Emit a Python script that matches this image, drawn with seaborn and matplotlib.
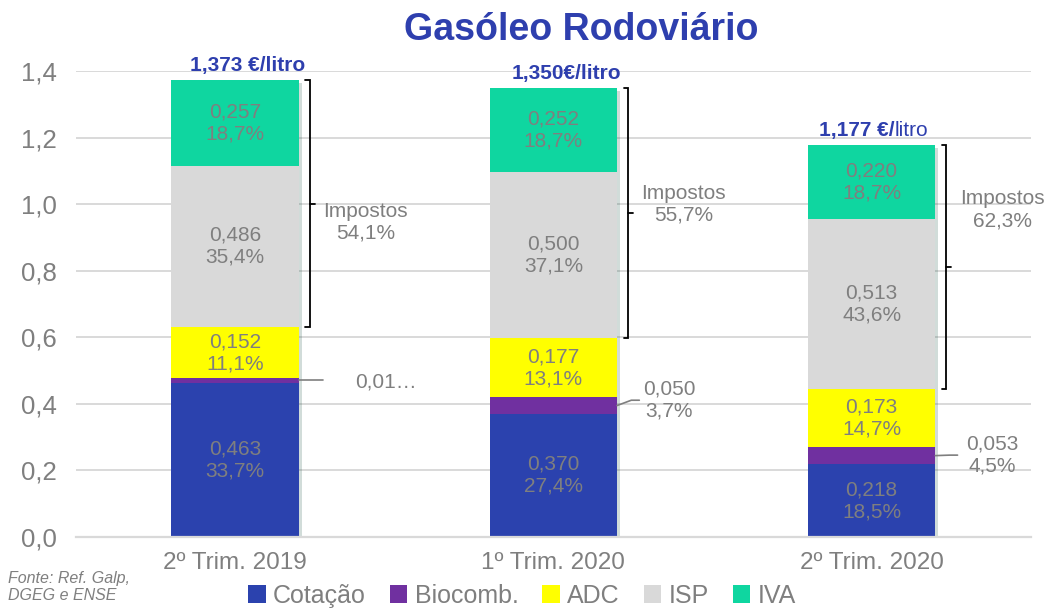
import matplotlib
matplotlib.use("Agg")
import numpy as np
import pandas as pd
import matplotlib.pyplot as plt
import seaborn as sns
from matplotlib.patches import Patch
import matplotlib.patheffects as pe

# values (euro per litre)
periods = ["2º Trim. 2019", "1º Trim. 2020", "2º Trim. 2020"]
cotacao = [0.463, 0.370, 0.218]
biocomb = [0.015, 0.050, 0.053]
adc = [0.152, 0.177, 0.173]
isp = [0.486, 0.500, 0.513]
iva = [0.257, 0.252, 0.220]

# shares of the final price (%)
cotacao_pct = [33.7, 27.4, 18.5]
biocomb_pct = [1.1, 3.7, 4.5]
adc_pct = [11.1, 13.1, 14.7]
isp_pct = [35.4, 37.1, 43.6]
iva_pct = [18.7, 18.7, 18.7]
impostos_pct = [54.1, 55.7, 62.3]
total_labels = ["1,373 €/litro", "1,350€/litro", "1,177 €/litro"]
unit_bold = [True, True, False]   # last label has "litro" in regular weight

series = ["Cotação", "Biocomb.", "ADC", "ISP", "IVA"]
colors = ["#2B42AE", "#7030A0", "#FFFF00", "#D9D9D9", "#0FD6A0"]
GREY = "#7F7F7F"
TITLE_BLUE = "#2E3FAE"


def fmt(v, d):
    return f"{v:.{d}f}".replace(".", ",")


df = pd.DataFrame({"Cotação": cotacao, "Biocomb.": biocomb, "ADC": adc,
                   "ISP": isp, "IVA": iva}, index=periods)
pct = pd.DataFrame({"Cotação": cotacao_pct, "Biocomb.": biocomb_pct, "ADC": adc_pct,
                    "ISP": isp_pct, "IVA": iva_pct}, index=periods)
cum = df.cumsum(axis=1)
cum_long = cum.reset_index().rename(columns={"index": "periodo"})

sns.set_style("white")
plt.rcParams["font.family"] = ["Liberation Sans", "DejaVu Sans"]

fig = plt.figure(figsize=(10.44, 6.13), dpi=100)
ax = fig.add_axes([0.0728, 0.124, 0.9145, 0.760])

# stacked bars: draw cumulative totals from the top layer down
for name, col in reversed(list(zip(series, colors))):
    sns.barplot(data=cum_long, x="periodo", y=name, order=periods, color=col,
                width=0.4, saturation=1, errorbar=None, ax=ax, zorder=2,
                linewidth=0)

# soft shadow on the full stack
for bar in ax.patches[:len(periods)]:
    bar.set_path_effects([pe.SimplePatchShadow(offset=(2, -2), alpha=0.18),
                          pe.Normal()])

ax.set_xlim(-0.5, 2.5)
ax.set_ylim(0, 1.4)
yt = np.arange(0, 1.41, 0.2)
ax.set_yticks(yt)
ax.set_yticklabels([fmt(v, 1) for v in yt])
ax.set_xlabel("")
ax.set_ylabel("")
ax.tick_params(axis="y", length=0, pad=14, labelsize=18.5, labelcolor=GREY)
ax.tick_params(axis="x", length=0, pad=11, labelsize=17.5, labelcolor=GREY)
ax.grid(axis="y", color="#D9D9D9", lw=1.4)
ax.grid(axis="x", visible=False)
ax.set_axisbelow(True)
for s in ["top", "right", "left"]:
    ax.spines[s].set_visible(False)
ax.spines["bottom"].set_color("#D9D9D9")
ax.spines["bottom"].set_linewidth(1.6)

# labels inside the segments
for name in ["Cotação", "ADC", "ISP", "IVA"]:
    for i, p in enumerate(periods):
        v = df.loc[p, name]
        mid = cum.loc[p, name] - v / 2
        ax.text(i, mid, f"{fmt(v, 3)}\n{fmt(pct.loc[p, name], 1)}%", ha="center",
                va="center", fontsize=15, color=GREY, linespacing=1.2, zorder=5)

# biocombustivel labels outside the bars, with leader lines
bio_dx = [0.473, 0.363, 0.38]
bio_dy = [0.465, 0.411, 0.246]
for i, p in enumerate(periods):
    v = df.loc[p, "Biocomb."]
    mid = cum.loc[p, "Biocomb."] - v / 2
    if i == 0:
        txt = fmt(v, 3)[:4] + "…"
        ax.plot([i + 0.2, i + 0.276], [mid, mid], color=GREY, lw=1.2, zorder=4)
    else:
        txt = f"{fmt(v, 3)}\n{fmt(pct.loc[p, 'Biocomb.'], 1)}%"
        ax.plot([i + 0.2, i + 0.245, i + 0.27], [mid, bio_dy[i], bio_dy[i]],
                color=GREY, lw=1.2, zorder=4)
    ax.text(i + bio_dx[i], bio_dy[i], txt, ha="center", va="center",
            fontsize=15, color=GREY, linespacing=1.2)

# brackets for the taxes
for i, p in enumerate(periods):
    top = cum.loc[p, "IVA"]
    bot = cum.loc[p, "ADC"]
    xb = i + 0.2 + 0.035
    ax.plot([xb - 0.014, xb, xb, xb - 0.014], [top, top, bot, bot],
            color="black", lw=1.3, zorder=4, solid_joinstyle="miter")
    midb = (top + bot) / 2
    ax.plot([xb, xb + 0.016], [midb, midb], color="black", lw=1.3, zorder=4)
    ax.text(i + 0.41, [0.946, 1.0, 0.984][i], f"Impostos\n{fmt(impostos_pct[i], 1)}%",
            ha="center", va="center", fontsize=15, color=GREY, linespacing=1.2)

# price per litre above each bar
for i, p in enumerate(periods):
    y = cum.loc[p, "IVA"] + 0.045
    if unit_bold[i]:
        ax.text(i + 0.04, y, total_labels[i], ha="center", va="center",
                fontsize=15, fontweight="bold", color=TITLE_BLUE)
    else:
        head, unit = total_labels[i].split("/")
        ax.text(i + 0.073, y, head + "/", ha="right", va="center",
                fontsize=15, fontweight="bold", color=TITLE_BLUE)
        ax.text(i + 0.073, y, unit, ha="left", va="center",
                fontsize=15, color=TITLE_BLUE)

fig.text(0.557, 0.951, "Gasóleo Rodoviário", ha="center", va="center",
         fontsize=27, fontweight="bold", color=TITLE_BLUE)
fig.text(0.008, 0.068, "Fonte: Ref. Galp,\nDGEG e ENSE", ha="left", va="top",
         fontsize=11.5, style="italic", color=GREY, linespacing=1.15)

handles = [Patch(facecolor=c, edgecolor="none") for c in colors]
leg = fig.legend(handles, series, loc="lower center", bbox_to_anchor=(0.5, -0.028),
                 ncol=5, frameon=False, fontsize=18, handlelength=0.7,
                 handleheight=0.7, handletextpad=0.3, columnspacing=0.95)
for t in leg.get_texts():
    t.set_color(GREY)

fig.savefig("out.png", dpi=100)
